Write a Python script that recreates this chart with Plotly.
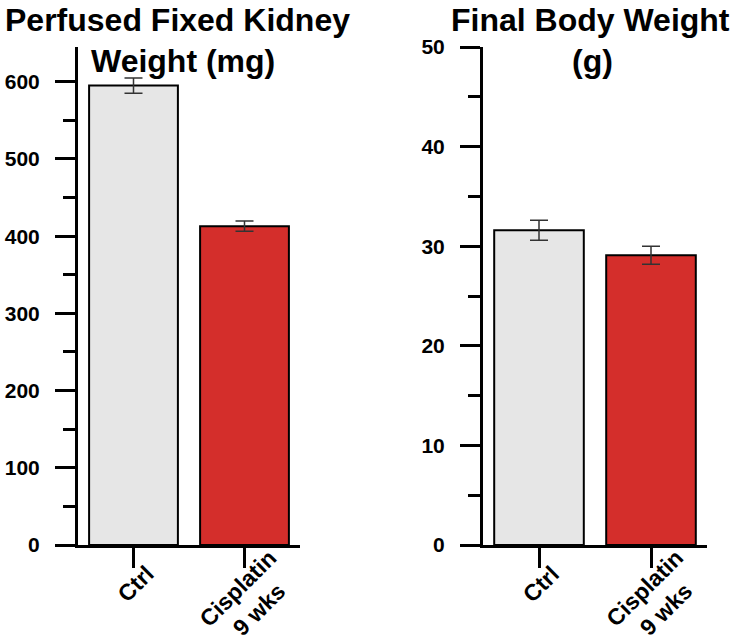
import plotly.graph_objects as go

categories = ["Ctrl", "Cisplatin<br>9 wks"]
kidney_mean = [595, 413]
kidney_err = [10, 6.5]
body_mean = [31.6, 29.1]
body_err = [1.0, 0.9]
bar_colors = ["#E6E6E6", "#D42E2B"]

W, H = 738, 642
FONT = "Liberation Sans"

def px_x(x):
    return x / W

def px_y(y):
    return (H - y) / H

fig = go.Figure()

for vals, errs, xa, ya in [(kidney_mean, kidney_err, "x", "y"), (body_mean, body_err, "x2", "y2")]:
    fig.add_trace(go.Bar(
        x=categories, y=vals, xaxis=xa, yaxis=ya,
        marker=dict(color=bar_colors, line=dict(color="black", width=2)),
        width=0.8,
        error_y=dict(type="data", array=errs, visible=True, color="#333333", thickness=1.5, width=9),
        showlegend=False,
    ))

common_x = dict(
    type="category", range=[-0.5, 1.5], showline=True, linewidth=3, linecolor="black",
    ticks="outside", ticklen=20, tickwidth=3, tickcolor="black",
    showticklabels=False,
    showgrid=False, zeroline=False, fixedrange=True, automargin=False,
)
common_y = dict(
    showline=True, linewidth=3, linecolor="black",
    ticks="outside", ticklen=20, tickwidth=3, tickcolor="black",
    tickfont=dict(family=FONT, size=21, color="black", weight="bold"),
    ticklabelstandoff=11,
    showgrid=False, zeroline=False, automargin=False, fixedrange=True,
)

fig.update_layout(
    width=W, height=H,
    margin=dict(l=0, r=0, t=0, b=0),
    paper_bgcolor="white", plot_bgcolor="white",
    bargap=0.2,
    xaxis=dict(domain=[px_x(78), px_x(300)], anchor="y", **common_x),
    yaxis=dict(domain=[px_y(545), px_y(47)], anchor="x", range=[0, 645], dtick=100,
               minor=dict(dtick=50, ticks="outside", ticklen=12, tickwidth=3, tickcolor="black"),
               **common_y),
    xaxis2=dict(domain=[px_x(483), px_x(707)], anchor="y2", **common_x),
    yaxis2=dict(domain=[px_y(545), px_y(47)], anchor="x2", range=[0, 50], dtick=10,
                minor=dict(dtick=5, ticks="outside", ticklen=12, tickwidth=3, tickcolor="black"),
                **common_y),
)

# category labels (rotated, centred under each tick)
label_font = dict(family=FONT, size=23, color="black", weight="bold")
label_y = [584, 599]
label_dx = [2, 4]
for xref in ["x", "x2"]:
    for cat, ly, dx in zip(categories, label_y, label_dx):
        fig.add_annotation(text=cat, x=cat, xref=xref, xshift=dx, y=px_y(ly), yref="paper",
                           xanchor="center", yanchor="middle", textangle=-45, showarrow=False,
                           font=label_font, align="center")

title_font = dict(family=FONT, size=32, color="black", weight="bold")
titles = [
    ("Perfused Fixed Kidney", 177, 20),
    ("Weight (mg)", 183, 61),
    ("Final Body Weight", 590, 20),
    ("(g)", 592, 61),
]
for txt, cx, cy in titles:
    fig.add_annotation(text=txt, x=px_x(cx), y=px_y(cy), xref="paper", yref="paper",
                       xanchor="center", yanchor="middle", showarrow=False, font=title_font)

fig.write_html("out.html", config={"displayModeBar": False},
               post_script="document.body.style.margin='0px';document.body.style.overflow='hidden';")
